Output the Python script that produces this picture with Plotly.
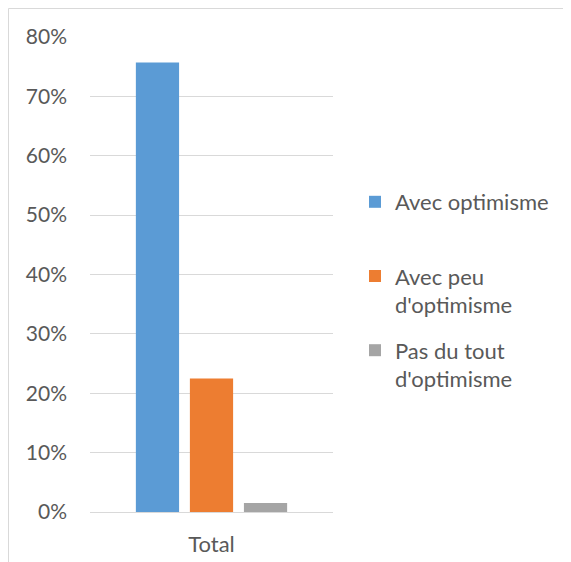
import plotly.graph_objects as go

categories = ["Total"]
series_names = ["Avec optimisme<br>\u00a0", "Avec peu<br>d'optimisme", "Pas du tout<br>d'optimisme"]
series_values = [[0.757], [0.225], [0.015]]
colors = ["#5B9BD5", "#ED7D31", "#A5A5A5"]
tick_vals = [0, 0.1, 0.2, 0.3, 0.4, 0.5, 0.6, 0.7, 0.8]
tick_text = ["0%", "10%", "20%", "30%", "40%", "50%", "60%", "70%", "80%"]

# page body has an 8px margin; figure is positioned at (8, 8) in the window
OFF = 8
W, H = 571 - OFF, 562 - OFF
L, R, T, B = 90 - OFF, 571 - 333, 37 - OFF, 562 - 512
pw, ph = W - L - R, H - T - B

fig = go.Figure()
for i, (name, vals, col) in enumerate(zip(series_names, series_values, colors)):
    fig.add_trace(go.Bar(x=categories, y=vals, name=name, marker=dict(color=col, line=dict(width=0)),
                         legendgroup=f"g{i}"))

font_family = "Lato, 'Liberation Sans', Arial, sans-serif"
txt = "#595959"

def px_x(p):
    return (p - OFF - L) / pw

def px_y(p):
    return (H - B - (p - OFF)) / ph

fig.update_layout(
    width=W, height=H,
    margin=dict(l=L, r=R, t=T, b=B, pad=0, autoexpand=False),
    paper_bgcolor="white", plot_bgcolor="white",
    barmode="group", bargap=0.333, bargroupgap=0.2,
    font=dict(family=font_family, size=22, color=txt),
    legend=dict(x=px_x(355), y=px_y(181), xanchor="left", yanchor="top",
                valign="top", tracegroupgap=14, font=dict(size=22, color=txt),
                bgcolor="rgba(0,0,0,0)", borderwidth=0),
    xaxis=dict(showgrid=False, zeroline=False, showline=False, ticks="", automargin=False,
               ticklabelstandoff=17, tickfont=dict(size=22, color=txt)),
    yaxis=dict(range=[0, 0.8], tickvals=tick_vals, ticktext=tick_text, automargin=False,
               showgrid=True, gridcolor="#D9D9D9", gridwidth=1,
               zeroline=True, zerolinecolor="#D9D9D9", zerolinewidth=1,
               showline=False, ticks="", ticklabelstandoff=22,
               tickfont=dict(size=21, color=txt)),
    shapes=[dict(type="rect", xref="paper", yref="paper",
                 x0=px_x(8.5), x1=px_x(571 + 20), y0=px_y(562 + 20), y1=px_y(8.5),
                 line=dict(color="#D9D9D9", width=1), fillcolor="rgba(0,0,0,0)", layer="below")],
)

fig.write_html("out.html")
